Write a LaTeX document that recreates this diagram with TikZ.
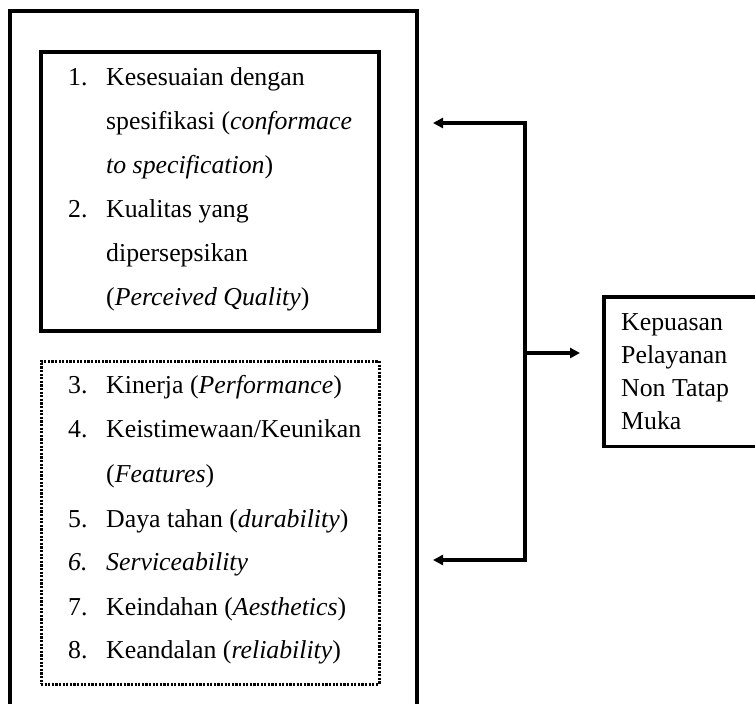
\documentclass[tikz,border=0pt]{standalone}
\usepackage{fontspec}
\setmainfont{Liberation Serif}
\usetikzlibrary{arrows.meta}
\begin{document}
\begin{tikzpicture}[x=1pt,y=-1pt,
  txt/.style={anchor=base west,inner sep=0pt,font=\fontsize{25.8}{30}\selectfont},
  solidbox/.style={draw,line width=3.5pt,inner sep=0pt},
  dotbox/.style={draw,line width=3pt,dash pattern=on 2.2pt off 1.4pt,inner sep=0pt},
  conn/.style={line width=3.5pt,-{Triangle[length=10pt,width=10pt]}},
  plain/.style={line width=3.5pt}]
\useasboundingbox (0,0) rectangle (755,704);
% outer box (bottom cut by page)
\node (outer) [minimum width=407pt,minimum height=693pt,inner sep=0pt] at (213.5,357.5) {};
\draw[plain] (outer.south west) -- (outer.north west) -- (outer.north east) -- (outer.south east);
% inner solid box
\node (box1) [solidbox,minimum width=338pt,minimum height=279pt] at (210,191.5) {};
% dotted box
\node (box2) [dotbox,minimum width=338pt,minimum height=323pt] at (210,522.5) {};
% list 1
\node[txt] (n1) at (68,85) {1.};
\node[txt] (a1) at (106,85) {Kesesuaian dengan};
\node[txt] (a2) at (106,129) {spesifikasi (\textit{conformace}};
\node[txt] (a3) at (106,173) {\textit{to specification})};
\node[txt] (n2) at (68,217) {2.};
\node[txt] (b1) at (106,217) {Kualitas yang};
\node[txt] (b2) at (106,261) {dipersepsikan};
\node[txt] (b3) at (106,305) {(\textit{Perceived Quality})};
% list 2
\node[txt] (n3) at (68,393) {3.};
\node[txt] (c1) at (106,393) {Kinerja (\textit{Performance})};
\node[txt] (n4) at (68,437) {4.};
\node[txt] (d1) at (106,437) {Keistimewaan/Keunikan};
\node[txt] (d2) at (106,482) {(\textit{Features})};
\node[txt] (n5) at (68,527) {5.};
\node[txt] (e1) at (106,527) {Daya tahan (\textit{durability})};
\node[txt] (n6) at (68,570) {\textit{6.}};
\node[txt] (f1) at (106,570) {\textit{Serviceability}};
\node[txt] (n7) at (68,615) {7.};
\node[txt] (g1) at (106,615) {Keindahan (\textit{Aesthetics})};
\node[txt] (n8) at (68,658) {8.};
\node[txt] (h1) at (106,658) {Keandalan (\textit{reliability})};
% right box (right edge cut by page)
\node (rbox) [minimum width=151pt,minimum height=149pt,inner sep=0pt,anchor=north west] at (604,297) {};
\draw[plain] (rbox.north east) -- (rbox.north west) -- (rbox.south west) -- (rbox.south east);
\node[txt] (r1) at (621,330) {Kepuasan};
\node[txt] (r2) at (621,363) {Pelayanan};
\node[txt] (r3) at (621,396) {Non Tatap};
\node[txt] (r4) at (621,429) {Muka};
% connectors
\coordinate (jt) at (525,123);
\coordinate (jb) at (525,560);
\coordinate (jm) at (525,353);
\coordinate (tt) at (433,123);
\coordinate (tb) at (433,560);
\coordinate (tm) at (rbox.west |- jm);
\draw[plain,line cap=rect] (jt) -- (jb);
\draw[conn] (jt) -- (tt);
\draw[conn] (jb) -- (tb);
\draw[conn,shorten >=24pt] (jm) -- (tm);
\end{tikzpicture}
\end{document}
